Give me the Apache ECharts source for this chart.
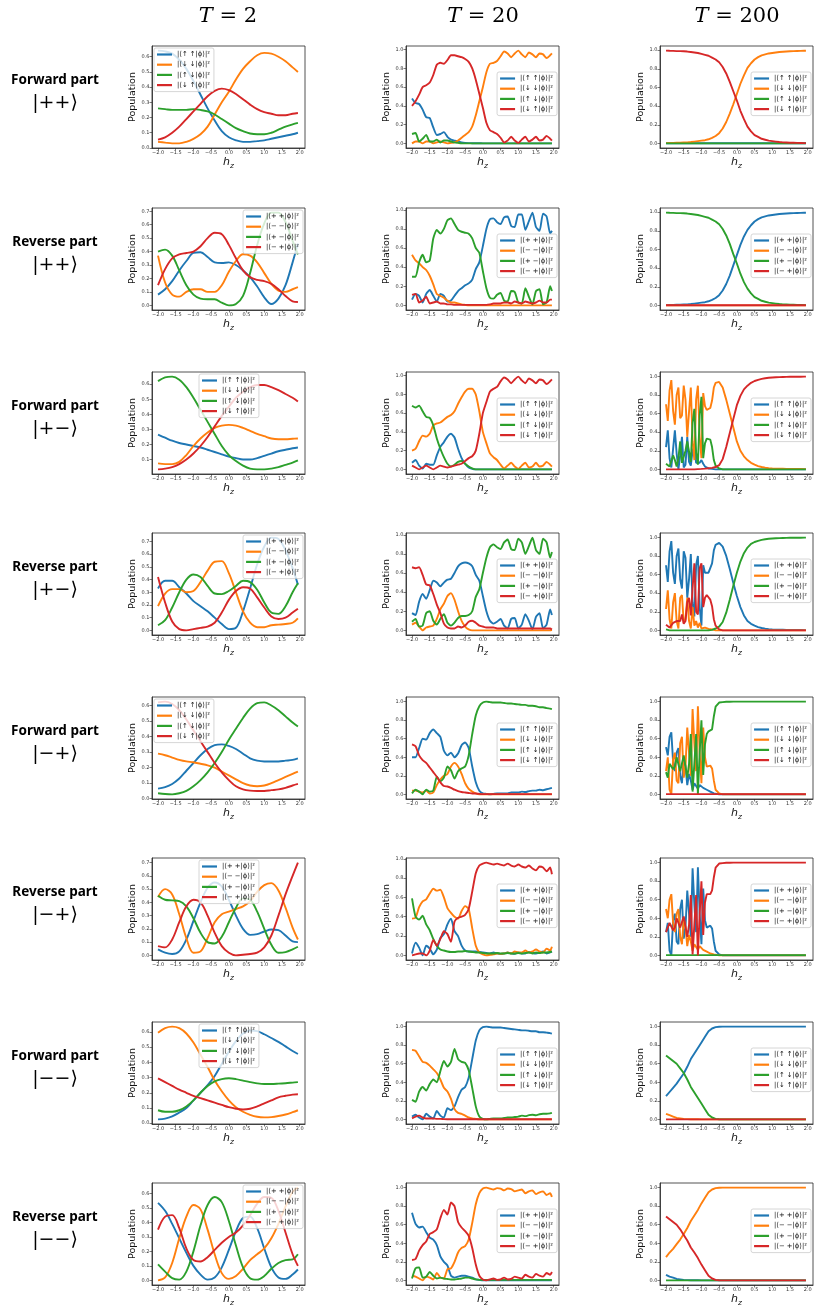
<!DOCTYPE html>
<html>
<head>
<meta charset="utf-8">
<title>Population vs h_z</title>
<script src="https://cdn.jsdelivr.net/npm/echarts@6.0.0/dist/echarts.min.js"></script>
<style>
  html, body { margin: 0; padding: 0; background: #fff; }
  #chart { width: 817px; height: 1307px; }
</style>
</head>
<body>
<div id="chart"></div>
<script>
// sample positions along h_z
var xsT2 = [-2.0,-1.8,-1.6,-1.4,-1.2,-1.0,-0.8,-0.6,-0.4,-0.2,0.0,0.2,0.4,0.6,0.8,1.0,1.2,1.4,1.6,1.8,1.95];
var xsT20 = [-2.0,-1.9,-1.8,-1.7,-1.6,-1.5,-1.4,-1.3,-1.2,-1.1,
  -1.0,-0.9,-0.8,-0.7,-0.6,-0.5,-0.4,-0.3,-0.2,-0.1,
  0.0,0.1,0.2,0.3,0.4,0.5,0.6,0.7,0.8,0.9,
  1.0,1.1,1.2,1.3,1.4,1.5,1.6,1.7,1.8,1.9,1.95];
var xsT200 = [-2.0,-1.95,-1.9,-1.85,-1.8,-1.75,-1.7,-1.65,-1.6,-1.55,
  -1.5,-1.45,-1.4,-1.35,-1.3,-1.25,-1.2,-1.15,-1.1,-1.05,
  -1.0,-0.95,-0.9,-0.85,-0.8,-0.75,-0.7,-0.65,-0.6,
  -0.5,-0.4,-0.3,-0.2,-0.1,0.0,0.1,0.2,0.3,0.4,
  0.5,0.6,0.7,0.8,0.9,1.0,1.1,1.2,1.3,1.4,
  1.5,1.6,1.7,1.8,1.9,1.95];

var xTicks = [-2.0,-1.5,-1.0,-0.5,0.0,0.5,1.0,1.5,2.0];
var yTicksT2 = [0.0,0.1,0.2,0.3,0.4,0.5,0.6,0.7];
var yTicksLong = [0.0,0.2,0.4,0.6,0.8,1.0];

var fwdNames = ['|\u27e8\u2191 \u2191|\u03d5\u27e9|\u00b2','|\u27e8\u2193 \u2193|\u03d5\u27e9|\u00b2','|\u27e8\u2191 \u2193|\u03d5\u27e9|\u00b2','|\u27e8\u2193 \u2191|\u03d5\u27e9|\u00b2'];
var revNames = ['|\u27e8+ +|\u03d5\u27e9|\u00b2','|\u27e8\u2212 \u2212|\u03d5\u27e9|\u00b2','|\u27e8+ \u2212|\u03d5\u27e9|\u00b2','|\u27e8\u2212 +|\u03d5\u27e9|\u00b2'];

var colTitles = ['2', '20', '200'];
var rowLabels = ['Forward part','Reverse part','Forward part','Reverse part','Forward part','Reverse part','Forward part','Reverse part'];
var kets = ['|++\u27e9','|++\u27e9','|+\u2212\u27e9','|+\u2212\u27e9','|\u2212+\u27e9','|\u2212+\u27e9','|\u2212\u2212\u27e9','|\u2212\u2212\u27e9'];

// ---------- T = 2 (blue, orange, green, red) ----------
var fPP_T2 = [
  [0.64,0.635,0.62,0.58,0.52,0.44,0.35,0.26,0.18,0.11,0.07,0.05,0.04,0.04,0.045,0.05,0.06,0.07,0.08,0.09,0.10],
  [0.04,0.035,0.03,0.03,0.04,0.06,0.09,0.14,0.22,0.30,0.37,0.45,0.52,0.57,0.61,0.625,0.62,0.60,0.57,0.53,0.50],
  [0.26,0.255,0.25,0.25,0.25,0.255,0.25,0.24,0.22,0.19,0.16,0.13,0.11,0.095,0.09,0.09,0.10,0.12,0.14,0.155,0.165],
  [0.055,0.07,0.10,0.14,0.19,0.24,0.29,0.34,0.375,0.39,0.38,0.355,0.32,0.285,0.255,0.235,0.225,0.215,0.215,0.225,0.23]
];
var rPP_T2 = [
  [0.08,0.12,0.18,0.26,0.33,0.39,0.395,0.36,0.32,0.315,0.32,0.30,0.26,0.21,0.14,0.06,0.01,0.05,0.15,0.32,0.46],
  [0.37,0.17,0.08,0.065,0.10,0.12,0.12,0.10,0.10,0.15,0.25,0.33,0.38,0.37,0.32,0.24,0.16,0.11,0.10,0.12,0.135],
  [0.40,0.415,0.37,0.26,0.15,0.08,0.05,0.045,0.045,0.02,0.0,0.01,0.07,0.24,0.45,0.61,0.69,0.69,0.62,0.48,0.38],
  [0.15,0.27,0.35,0.38,0.39,0.40,0.44,0.50,0.54,0.53,0.45,0.35,0.26,0.21,0.19,0.18,0.16,0.12,0.07,0.03,0.025]
];
var fPM_T2 = [
  [0.265,0.245,0.225,0.21,0.20,0.19,0.18,0.165,0.15,0.135,0.12,0.11,0.10,0.10,0.11,0.125,0.14,0.155,0.165,0.175,0.18],
  [0.075,0.07,0.07,0.085,0.13,0.19,0.24,0.28,0.31,0.325,0.33,0.325,0.31,0.29,0.27,0.255,0.24,0.235,0.235,0.238,0.24],
  [0.62,0.645,0.65,0.63,0.58,0.51,0.43,0.35,0.27,0.19,0.13,0.09,0.06,0.04,0.035,0.035,0.04,0.05,0.065,0.08,0.095],
  [0.035,0.04,0.05,0.07,0.10,0.14,0.19,0.25,0.32,0.39,0.45,0.51,0.55,0.58,0.595,0.595,0.58,0.56,0.535,0.51,0.485]
];
var rPM_T2 = [
  [0.33,0.39,0.39,0.34,0.29,0.23,0.19,0.15,0.10,0.05,0.01,0.02,0.15,0.33,0.52,0.66,0.73,0.72,0.63,0.49,0.36],
  [0.19,0.29,0.325,0.325,0.30,0.31,0.38,0.47,0.54,0.545,0.45,0.30,0.15,0.06,0.025,0.025,0.04,0.045,0.05,0.06,0.095],
  [0.04,0.08,0.18,0.30,0.40,0.44,0.42,0.35,0.29,0.285,0.31,0.35,0.39,0.38,0.32,0.22,0.14,0.13,0.19,0.30,0.37],
  [0.42,0.22,0.07,0.01,0.0,0.01,0.02,0.03,0.06,0.14,0.24,0.31,0.34,0.33,0.26,0.18,0.11,0.09,0.10,0.14,0.17]
];
var fMP_T2 = [
  [0.065,0.075,0.095,0.13,0.18,0.23,0.28,0.32,0.345,0.35,0.34,0.32,0.29,0.26,0.245,0.24,0.24,0.24,0.245,0.25,0.26],
  [0.29,0.28,0.265,0.25,0.24,0.235,0.225,0.215,0.20,0.175,0.15,0.125,0.10,0.085,0.08,0.085,0.10,0.12,0.14,0.16,0.175],
  [0.035,0.03,0.028,0.035,0.05,0.08,0.12,0.17,0.23,0.30,0.38,0.45,0.52,0.58,0.615,0.62,0.60,0.57,0.53,0.49,0.465],
  [0.62,0.625,0.61,0.57,0.51,0.44,0.37,0.30,0.23,0.17,0.12,0.08,0.06,0.052,0.05,0.05,0.055,0.06,0.07,0.085,0.095]
];
var rMP_T2 = [
  [0.045,0.02,0.01,0.03,0.12,0.26,0.40,0.51,0.55,0.52,0.42,0.30,0.20,0.155,0.16,0.18,0.195,0.19,0.15,0.105,0.10],
  [0.44,0.50,0.46,0.31,0.13,0.02,0.03,0.13,0.25,0.31,0.33,0.35,0.37,0.41,0.48,0.53,0.545,0.49,0.36,0.21,0.12],
  [0.45,0.42,0.415,0.41,0.37,0.28,0.17,0.10,0.09,0.14,0.25,0.36,0.43,0.42,0.33,0.20,0.08,0.02,0.025,0.045,0.065],
  [0.07,0.06,0.12,0.25,0.37,0.42,0.40,0.30,0.17,0.07,0.02,0.0,0.005,0.01,0.02,0.06,0.15,0.30,0.46,0.60,0.70]
];
var fMM_T2 = [
  [0.025,0.03,0.045,0.07,0.10,0.15,0.20,0.25,0.31,0.39,0.47,0.54,0.59,0.61,0.605,0.585,0.56,0.535,0.505,0.475,0.455],
  [0.595,0.625,0.635,0.625,0.59,0.53,0.45,0.37,0.28,0.21,0.15,0.105,0.075,0.055,0.042,0.038,0.04,0.047,0.057,0.072,0.085],
  [0.085,0.075,0.075,0.085,0.11,0.15,0.20,0.245,0.275,0.29,0.295,0.29,0.28,0.27,0.262,0.258,0.258,0.26,0.263,0.267,0.27],
  [0.295,0.27,0.245,0.22,0.20,0.18,0.165,0.15,0.135,0.12,0.105,0.095,0.09,0.095,0.11,0.13,0.15,0.17,0.18,0.188,0.19]
];
var rMM_T2 = [
  [0.535,0.48,0.39,0.29,0.19,0.10,0.04,0.005,0.02,0.09,0.21,0.34,0.43,0.44,0.36,0.22,0.09,0.02,0.01,0.04,0.075],
  [0.0,0.02,0.12,0.29,0.44,0.52,0.49,0.35,0.18,0.05,0.01,0.03,0.08,0.14,0.18,0.22,0.29,0.39,0.51,0.61,0.64],
  [0.11,0.06,0.015,0.005,0.06,0.20,0.38,0.52,0.575,0.54,0.41,0.24,0.09,0.015,0.005,0.03,0.08,0.12,0.14,0.145,0.18],
  [0.35,0.44,0.45,0.36,0.22,0.14,0.13,0.16,0.21,0.26,0.30,0.33,0.38,0.45,0.53,0.575,0.57,0.48,0.33,0.18,0.10]
];

// ---------- T = 20 ----------
var fPP_T20 = [
  [0.48,0.43,0.42,0.36,0.28,0.27,0.17,0.09,0.10,0.12, 0.07,0.04,0.03,0.02,0.01,0.005,0.003,0.002,0.001,0.001, 0,0,0,0,0,0,0,0,0,0, 0,0,0,0,0,0,0,0,0,0,0],
  [0.0,0.02,0.02,0.0,0.02,0.02,0.0,0.01,0.02,0.01, 0.0,0.005,0.01,0.03,0.06,0.09,0.12,0.18,0.30,0.45, 0.60,0.76,0.85,0.86,0.88,0.93,0.98,0.96,0.92,0.96, 0.99,0.95,0.92,0.97,0.95,0.92,0.96,0.95,0.91,0.94,0.96],
  [0.10,0.11,0.02,0.05,0.09,0.02,0.02,0.04,0.01,0.03, 0.03,0.02,0.01,0.005,0,0,0,0,0,0, 0,0,0,0,0,0,0,0,0,0, 0,0,0,0,0,0,0,0,0,0,0],
  [0.40,0.45,0.52,0.60,0.62,0.65,0.73,0.84,0.86,0.85, 0.89,0.94,0.94,0.93,0.92,0.90,0.87,0.80,0.68,0.53, 0.38,0.22,0.14,0.12,0.10,0.06,0.01,0.03,0.07,0.03, 0.005,0.04,0.07,0.02,0.04,0.07,0.03,0.04,0.08,0.05,0.03]
];
var rPP_T20 = [
  [0.06,0.12,0.10,0.03,0.12,0.16,0.10,0.04,0.12,0.10, 0.04,0.05,0.10,0.15,0.18,0.21,0.23,0.27,0.38,0.45, 0.62,0.80,0.90,0.91,0.87,0.85,0.92,0.93,0.83,0.82, 0.95,0.95,0.79,0.88,0.97,0.82,0.78,0.96,0.93,0.75,0.78],
  [0.53,0.47,0.44,0.40,0.37,0.31,0.22,0.12,0.10,0.08, 0.05,0.03,0.03,0.02,0.01,0.005,0,0,0,0, 0,0,0,0,0,0,0,0,0,0, 0,0,0,0,0,0,0,0,0,0,0],
  [0.30,0.30,0.45,0.53,0.45,0.47,0.70,0.79,0.75,0.80, 0.89,0.91,0.85,0.79,0.77,0.76,0.75,0.70,0.60,0.55, 0.36,0.18,0.08,0.07,0.11,0.13,0.05,0.04,0.15,0.14, 0.03,0.02,0.18,0.09,0.01,0.15,0.17,0.01,0.03,0.20,0.15],
  [0.11,0.12,0.03,0.05,0.09,0.02,0.03,0.04,0.02,0.02, 0.01,0.01,0.005,0.005,0.005,0.005,0.005,0.005,0.005,0.005, 0.005,0.005,0.01,0.02,0.02,0.02,0.03,0.03,0.02,0.04, 0.03,0.02,0.04,0.03,0.02,0.03,0.05,0.03,0.03,0.06,0.06]
];
var fPM_T20 = [
  [0.07,0.10,0.04,0.01,0.06,0.05,0.05,0.15,0.24,0.29, 0.35,0.38,0.34,0.22,0.12,0.06,0.02,0.005,0,0, 0,0,0,0,0,0,0,0,0,0, 0,0,0,0,0,0,0,0,0,0,0],
  [0.20,0.22,0.30,0.36,0.35,0.38,0.47,0.49,0.50,0.53, 0.56,0.58,0.62,0.70,0.77,0.83,0.86,0.86,0.80,0.62, 0.40,0.28,0.17,0.13,0.10,0.05,0.01,0.04,0.07,0.03, 0.005,0.04,0.07,0.02,0.03,0.07,0.03,0.04,0.08,0.05,0.03],
  [0.68,0.66,0.68,0.62,0.56,0.55,0.47,0.33,0.22,0.13, 0.06,0.03,0.05,0.08,0.09,0.06,0.03,0.01,0,0, 0,0,0,0,0,0,0,0,0,0, 0,0,0,0,0,0,0,0,0,0,0],
  [0.04,0.02,0.0,0.02,0.04,0.02,0.0,0.02,0.04,0.03, 0.02,0.03,0.04,0.05,0.06,0.09,0.12,0.14,0.20,0.38, 0.60,0.72,0.83,0.86,0.88,0.94,0.98,0.96,0.92,0.96, 0.99,0.95,0.92,0.97,0.95,0.92,0.96,0.95,0.91,0.94,0.96]
];
var rPM_T20 = [
  [0.18,0.16,0.30,0.38,0.33,0.42,0.52,0.50,0.46,0.50, 0.53,0.54,0.60,0.67,0.70,0.71,0.70,0.67,0.58,0.52, 0.36,0.20,0.10,0.07,0.09,0.12,0.05,0.02,0.12,0.13, 0.02,0.06,0.17,0.10,0.01,0.14,0.18,0.02,0.06,0.22,0.16],
  [0.06,0.08,0.04,0.0,0.03,0.04,0.05,0.12,0.22,0.28, 0.36,0.39,0.32,0.20,0.10,0.04,0.01,0,0,0, 0,0,0,0,0,0,0,0,0,0, 0,0,0,0,0,0,0,0,0,0,0.005],
  [0.09,0.12,0.04,0.05,0.18,0.20,0.10,0.06,0.12,0.17, 0.08,0.05,0.08,0.13,0.15,0.15,0.16,0.20,0.35,0.43, 0.60,0.76,0.87,0.90,0.87,0.85,0.92,0.95,0.85,0.84, 0.96,0.92,0.80,0.88,0.97,0.84,0.80,0.96,0.92,0.76,0.82],
  [0.66,0.65,0.66,0.58,0.48,0.47,0.38,0.27,0.18,0.07, 0.03,0.02,0.02,0.04,0.03,0.05,0.09,0.10,0.08,0.05, 0.04,0.03,0.03,0.03,0.02,0.02,0.02,0.02,0.02,0.02, 0.02,0.02,0.02,0.02,0.02,0.02,0.02,0.02,0.02,0.02,0.01]
];
var fMP_T20 = [
  [0.40,0.40,0.50,0.60,0.59,0.66,0.70,0.66,0.62,0.47, 0.42,0.45,0.40,0.44,0.53,0.56,0.50,0.30,0.13,0.04, 0.01,0.005,0.0,0.005,0.01,0.01,0.01,0.01,0.02,0.02, 0.02,0.03,0.025,0.035,0.04,0.04,0.05,0.045,0.055,0.065,0.07],
  [0.04,0.04,0.03,0.02,0.04,0.01,0.02,0.10,0.16,0.20, 0.22,0.30,0.34,0.30,0.22,0.12,0.06,0.03,0.01,0.0, 0,0,0,0,0,0,0,0,0,0, 0,0,0,0,0,0,0,0,0,0,0],
  [0.01,0.05,0.03,0.0,0.05,0.03,0.04,0.19,0.14,0.18, 0.30,0.26,0.17,0.25,0.28,0.30,0.42,0.65,0.85,0.95, 0.99,1.0,0.995,0.99,0.99,0.99,0.985,0.98,0.98,0.975, 0.97,0.965,0.965,0.955,0.955,0.95,0.94,0.94,0.93,0.925,0.92],
  [0.54,0.52,0.42,0.37,0.34,0.29,0.24,0.19,0.13,0.09, 0.085,0.07,0.05,0.035,0.025,0.02,0.015,0.01,0.01,0.005, 0.003,0.003,0.003,0.003,0.003,0.003,0.003,0.003,0.003,0.003, 0.003,0.003,0.003,0.003,0.003,0.003,0.003,0.003,0.003,0.003,0.003]
];
var rMP_T20 = [
  [0.02,0.13,0.08,0.0,0.10,0.07,0.01,0.06,0.18,0.22, 0.32,0.38,0.25,0.20,0.10,0.05,0.04,0.04,0.04,0.035, 0.03,0.025,0.02,0.03,0.02,0.015,0.02,0.03,0.02,0.015, 0.03,0.02,0.02,0.035,0.025,0.02,0.03,0.04,0.02,0.03,0.04],
  [0.38,0.39,0.50,0.56,0.58,0.64,0.69,0.67,0.68,0.60, 0.49,0.44,0.40,0.38,0.46,0.51,0.48,0.28,0.10,0.03, 0.01,0.0,0.005,0.01,0.02,0.015,0.02,0.03,0.02,0.04, 0.03,0.03,0.05,0.03,0.04,0.06,0.04,0.03,0.07,0.05,0.09],
  [0.59,0.40,0.37,0.41,0.32,0.26,0.17,0.10,0.06,0.05, 0.04,0.035,0.035,0.04,0.04,0.045,0.04,0.035,0.03,0.03, 0.025,0.02,0.02,0.02,0.025,0.02,0.02,0.025,0.02,0.02, 0.025,0.02,0.025,0.03,0.02,0.03,0.025,0.03,0.03,0.035,0.04],
  [0.0,0.01,0.02,0.02,0.0,0.05,0.16,0.10,0.17,0.25, 0.22,0.14,0.35,0.39,0.40,0.42,0.48,0.66,0.85,0.93, 0.95,0.96,0.95,0.94,0.95,0.94,0.93,0.95,0.93,0.92, 0.94,0.92,0.91,0.93,0.90,0.88,0.92,0.91,0.87,0.91,0.84]
];
var fMM_T20 = [
  [0.03,0.05,0.02,0.0,0.06,0.03,0.01,0.09,0.04,0.02, 0.12,0.10,0.14,0.24,0.32,0.35,0.45,0.65,0.85,0.96, 0.995,1.0,0.995,0.99,0.99,0.99,0.985,0.98,0.975,0.97, 0.965,0.96,0.96,0.955,0.95,0.95,0.94,0.94,0.935,0.93,0.925],
  [0.75,0.74,0.68,0.62,0.61,0.58,0.54,0.50,0.43,0.34, 0.30,0.22,0.11,0.07,0.06,0.04,0.02,0.01,0.005,0, 0,0,0,0,0,0,0,0,0,0, 0,0,0,0,0,0,0,0,0,0,0],
  [0.21,0.19,0.30,0.35,0.31,0.38,0.43,0.40,0.52,0.63, 0.57,0.62,0.76,0.65,0.62,0.61,0.53,0.34,0.14,0.03, 0.005,0.0,0.005,0.01,0.01,0.01,0.015,0.02,0.02,0.025, 0.03,0.04,0.035,0.045,0.05,0.045,0.055,0.06,0.06,0.065,0.07],
  [0.01,0.03,0.04,0.02,0.01,0.01,0.01,0.005,0.005,0.003, 0.002,0.002,0.002,0.002,0.002,0.002,0.002,0.002,0.002,0.002, 0.002,0.002,0.002,0.002,0.002,0.002,0.002,0.002,0.002,0.002, 0.002,0.002,0.002,0.002,0.002,0.002,0.002,0.002,0.002,0.002,0.002]
];
var rMM_T20 = [
  [0.73,0.61,0.57,0.58,0.52,0.46,0.44,0.38,0.26,0.20, 0.16,0.05,0.03,0.04,0.05,0.05,0.04,0.03,0.01,0.005, 0,0,0,0,0,0,0,0,0,0, 0,0,0,0,0,0,0,0,0,0,0],
  [0.05,0.04,0.02,0.0,0.04,0.03,0.01,0.08,0.03,0.02, 0.12,0.13,0.20,0.30,0.35,0.37,0.44,0.62,0.82,0.94, 0.99,1.0,0.99,0.98,0.995,0.99,0.97,0.99,0.985,0.96, 0.97,0.98,0.94,0.96,0.97,0.93,0.95,0.96,0.92,0.94,0.90],
  [0.02,0.13,0.14,0.03,0.04,0.09,0.05,0.02,0.03,0.02, 0.015,0.01,0.01,0.015,0.02,0.03,0.03,0.02,0.01,0.005, 0.005,0.005,0.005,0.005,0.005,0.005,0.005,0.005,0.005,0.005, 0.005,0.005,0.005,0.005,0.005,0.005,0.005,0.005,0.005,0.005,0.005],
  [0.22,0.23,0.32,0.38,0.42,0.50,0.52,0.55,0.67,0.76, 0.71,0.84,0.80,0.63,0.57,0.53,0.48,0.35,0.17,0.05, 0.01,0.0,0.01,0.02,0.005,0.01,0.03,0.01,0.015,0.04, 0.03,0.02,0.06,0.04,0.03,0.07,0.05,0.04,0.08,0.06,0.09]
];

// ---------- T = 200 (rows 1,2,7,8 on xsT20, rows 3-6 on xsT200) ----------
var fPP_T200 = [
  [0.002,0.002,0.002,0.002,0.002,0.002,0.002,0.002,0.002,0.002, 0.002,0.002,0.002,0.002,0.002,0.002,0.002,0.002,0.002,0.002, 0.002,0.002,0.002,0.002,0.002,0.002,0.002,0.002,0.002,0.002, 0.002,0.002,0.002,0.002,0.002,0.002,0.002,0.002,0.002,0.002,0.002],
  [0.004,0.005,0.006,0.007,0.008,0.01,0.012,0.015,0.02,0.025, 0.03,0.035,0.045,0.06,0.08,0.11,0.16,0.23,0.32,0.42, 0.53,0.64,0.73,0.81,0.86,0.90,0.925,0.945,0.955,0.965, 0.97,0.975,0.98,0.983,0.986,0.988,0.99,0.991,0.992,0.993,0.993],
  [0.001,0.001,0.001,0.001,0.001,0.001,0.001,0.001,0.001,0.001, 0.001,0.001,0.001,0.001,0.001,0.001,0.001,0.001,0.001,0.001, 0.001,0.001,0.001,0.001,0.001,0.001,0.001,0.001,0.001,0.001, 0.001,0.001,0.001,0.001,0.001,0.001,0.001,0.001,0.001,0.001,0.001],
  [0.995,0.993,0.992,0.99,0.99,0.988,0.985,0.98,0.975,0.97, 0.96,0.95,0.94,0.92,0.90,0.87,0.82,0.75,0.66,0.56, 0.46,0.35,0.26,0.18,0.13,0.09,0.07,0.05,0.04,0.03, 0.025,0.02,0.015,0.012,0.01,0.008,0.007,0.006,0.005,0.004,0.004]
];
var rPP_T200 = [
  [0.004,0.005,0.006,0.007,0.008,0.01,0.012,0.015,0.02,0.025, 0.03,0.035,0.045,0.06,0.08,0.11,0.16,0.23,0.32,0.43, 0.54,0.65,0.74,0.81,0.86,0.90,0.925,0.945,0.955,0.965, 0.97,0.975,0.98,0.983,0.986,0.988,0.99,0.991,0.992,0.993,0.993],
  [0.001,0.001,0.001,0.001,0.001,0.001,0.001,0.001,0.001,0.001, 0.001,0.001,0.001,0.001,0.001,0.001,0.001,0.001,0.001,0.001, 0.001,0.001,0.001,0.001,0.001,0.001,0.001,0.001,0.001,0.001, 0.001,0.001,0.001,0.001,0.001,0.001,0.001,0.001,0.001,0.001,0.001],
  [0.995,0.993,0.992,0.99,0.99,0.988,0.985,0.98,0.975,0.97, 0.96,0.95,0.94,0.92,0.90,0.87,0.82,0.75,0.66,0.55, 0.45,0.34,0.25,0.18,0.13,0.09,0.07,0.05,0.04,0.03, 0.025,0.02,0.015,0.012,0.01,0.008,0.007,0.006,0.005,0.004,0.004],
  [0.002,0.002,0.002,0.002,0.002,0.002,0.002,0.002,0.002,0.002, 0.002,0.002,0.002,0.002,0.002,0.002,0.002,0.002,0.002,0.002, 0.002,0.002,0.002,0.002,0.002,0.002,0.002,0.002,0.002,0.002, 0.002,0.002,0.002,0.002,0.002,0.002,0.002,0.002,0.002,0.002,0.002]
];
var fPM_T200 = [
  [0.24,0.42,0.12,0.02,0.22,0.42,0.17,0.0,0.15,0.35, 0.02,0.05,0.35,0.08,0.04,0.20,0.25,0.07,0.05,0.07, 0.10,0.06,0.03,0.02,0.01,0.01,0.005,0.0,0.0, 0,0,0,0,0,0,0,0,0,0, 0,0,0,0,0,0,0,0,0,0, 0,0,0,0,0,0],
  [0.70,0.52,0.85,0.96,0.63,0.48,0.80,0.88,0.55,0.58, 0.90,0.75,0.35,0.62,0.88,0.30,0.10,0.75,0.90,0.35, 0.12,0.82,0.68,0.64,0.65,0.66,0.74,0.88,0.93, 0.94,0.88,0.75,0.60,0.45,0.30,0.20,0.14,0.10,0.07, 0.05,0.035,0.025,0.018,0.013,0.01,0.008,0.007,0.006,0.005, 0.005,0.004,0.004,0.004,0.003,0.003],
  [0.06,0.05,0.03,0.02,0.15,0.10,0.03,0.12,0.30,0.07, 0.08,0.20,0.30,0.30,0.08,0.50,0.65,0.18,0.05,0.58, 0.78,0.12,0.28,0.33,0.32,0.32,0.24,0.10,0.04, 0.01,0,0,0,0,0,0,0,0,0, 0,0,0,0,0,0,0,0,0,0, 0,0,0,0,0,0],
  [0,0,0,0,0,0,0,0,0,0, 0,0,0,0,0,0,0,0.002,0.003,0.003, 0.005,0.007,0.008,0.01,0.012,0.014,0.016,0.018,0.025, 0.045,0.11,0.24,0.39,0.54,0.69,0.79,0.86,0.90,0.93, 0.95,0.963,0.973,0.98,0.985,0.988,0.99,0.992,0.993,0.994, 0.995,0.995,0.996,0.996,0.997,0.997]
];
var rPM_T200 = [
  [0.70,0.52,0.85,0.96,0.62,0.50,0.80,0.88,0.55,0.45, 0.85,0.78,0.35,0.55,0.82,0.30,0.15,0.70,0.80,0.25, 0.05,0.70,0.62,0.60,0.62,0.64,0.72,0.86,0.92, 0.94,0.90,0.80,0.66,0.51,0.37,0.25,0.16,0.10,0.07, 0.05,0.035,0.025,0.018,0.013,0.01,0.008,0.007,0.006,0.005, 0.005,0.004,0.004,0.004,0.003,0.003],
  [0.23,0.43,0.12,0.02,0.30,0.40,0.10,0.02,0.35,0.38, 0.08,0.12,0.35,0.10,0.02,0.25,0.05,0.10,0.03,0.08, 0.02,0.04,0.03,0.02,0.015,0.01,0.01,0.005,0.0, 0,0,0,0,0,0,0,0,0,0, 0,0,0,0,0,0,0,0,0,0, 0,0,0,0,0,0],
  [0.01,0.01,0,0,0,0,0,0,0,0, 0,0,0,0,0,0,0,0,0,0, 0,0,0,0,0,0.005,0.005,0.01,0.02, 0.04,0.09,0.19,0.33,0.48,0.62,0.74,0.83,0.89,0.93, 0.95,0.963,0.973,0.98,0.985,0.988,0.99,0.992,0.993,0.994, 0.995,0.995,0.996,0.996,0.997,0.997],
  [0.06,0.05,0.03,0.02,0.08,0.10,0.10,0.10,0.10,0.17, 0.07,0.10,0.30,0.35,0.16,0.45,0.72,0.20,0.17,0.67, 0.72,0.25,0.35,0.38,0.36,0.33,0.26,0.12,0.05, 0.01,0,0,0,0,0,0,0,0,0, 0,0,0,0,0,0,0,0,0,0, 0,0,0,0,0,0]
];
var fMP_T200 = [
  [0.51,0.42,0.62,0.67,0.35,0.25,0.45,0.50,0.20,0.12, 0.40,0.30,0.10,0.22,0.15,0.05,0.12,0.10,0.06,0.10, 0.08,0.07,0.06,0.05,0.04,0.03,0.02,0.01,0.005, 0,0,0,0,0,0,0,0,0,0, 0,0,0,0,0,0,0,0,0,0, 0,0,0,0,0,0],
  [0.25,0.40,0.05,0.0,0.38,0.45,0.15,0.12,0.55,0.62, 0.18,0.30,0.72,0.45,0.20,0.92,0.55,0.25,0.95,0.45, 0.12,0.72,0.40,0.30,0.28,0.31,0.28,0.15,0.05, 0.01,0,0,0,0,0,0,0,0,0, 0,0,0,0,0,0,0,0,0,0, 0,0,0,0,0,0],
  [0.24,0.18,0.33,0.33,0.27,0.30,0.40,0.38,0.25,0.26, 0.42,0.40,0.18,0.33,0.65,0.03,0.33,0.65,0.0,0.45, 0.80,0.21,0.54,0.65,0.68,0.66,0.70,0.84,0.945, 0.99,0.995,0.998,0.999,1.0,1.0,1.0,1.0,1.0,1.0, 1.0,1.0,1.0,1.0,1.0,1.0,1.0,1.0,1.0,1.0, 1.0,1.0,1.0,1.0,1.0,1.0],
  [0.003,0.003,0.003,0.003,0.003,0.003,0.003,0.003,0.003,0.003, 0.003,0.003,0.003,0.003,0.003,0.003,0.003,0.003,0.003,0.003, 0.003,0.003,0.003,0.003,0.003,0.003,0.003,0.003,0.003, 0.003,0.003,0.003,0.003,0.003,0.003,0.003,0.003,0.003,0.003, 0.003,0.003,0.003,0.003,0.003,0.003,0.003,0.003,0.003,0.003, 0.003,0.003,0.003,0.003,0.003,0.003]
];
var rMP_T200 = [
  [0.25,0.35,0.05,0.0,0.38,0.45,0.15,0.12,0.50,0.60, 0.18,0.30,0.70,0.45,0.20,0.94,0.55,0.25,0.95,0.45, 0.12,0.72,0.38,0.30,0.30,0.32,0.29,0.15,0.05, 0.01,0,0,0,0,0,0,0,0,0, 0,0,0,0,0,0,0,0,0,0, 0,0,0,0,0,0],
  [0.50,0.40,0.60,0.66,0.35,0.25,0.45,0.50,0.20,0.12, 0.40,0.30,0.10,0.22,0.15,0.05,0.12,0.10,0.06,0.10, 0.08,0.06,0.05,0.04,0.03,0.02,0.015,0.01,0.005, 0,0,0,0,0,0,0,0,0,0, 0,0,0,0,0,0,0,0,0,0, 0,0,0,0,0,0],
  [0.003,0.003,0.003,0.003,0.003,0.003,0.003,0.003,0.003,0.003, 0.003,0.003,0.003,0.003,0.003,0.003,0.003,0.003,0.003,0.003, 0.003,0.003,0.003,0.003,0.003,0.003,0.003,0.003,0.003, 0.003,0.003,0.003,0.003,0.003,0.003,0.003,0.003,0.003,0.003, 0.003,0.003,0.003,0.003,0.003,0.003,0.003,0.003,0.003,0.003, 0.003,0.003,0.003,0.003,0.003,0.003],
  [0.25,0.25,0.35,0.34,0.27,0.30,0.40,0.38,0.30,0.28, 0.42,0.40,0.20,0.33,0.65,0.01,0.33,0.65,0.0,0.45, 0.80,0.22,0.57,0.66,0.67,0.66,0.70,0.84,0.945, 0.99,0.995,0.998,0.999,1.0,1.0,1.0,1.0,1.0,1.0, 1.0,1.0,1.0,1.0,1.0,1.0,1.0,1.0,1.0,1.0, 1.0,1.0,1.0,1.0,1.0,1.0]
];
var fMM_T200 = [
  [0.25,0.295,0.34,0.385,0.44,0.495,0.567,0.65,0.71,0.77, 0.83,0.89,0.95,0.98,0.995,0.999,1.0,1.0,1.0,1.0, 1.0,1.0,1.0,1.0,1.0,1.0,1.0,1.0,1.0,1.0, 1.0,1.0,1.0,1.0,1.0,1.0,1.0,1.0,1.0,1.0,1.0],
  [0.06,0.045,0.03,0.015,0.01,0.005,0.003,0.002,0.001,0.001, 0,0,0,0,0,0,0,0,0,0, 0,0,0,0,0,0,0,0,0,0, 0,0,0,0,0,0,0,0,0,0,0],
  [0.69,0.66,0.63,0.60,0.55,0.50,0.43,0.35,0.29,0.23, 0.17,0.11,0.05,0.02,0.005,0.001,0,0,0,0, 0,0,0,0,0,0,0,0,0,0, 0,0,0,0,0,0,0,0,0,0,0],
  [0,0,0,0,0,0,0,0,0,0, 0,0,0,0,0,0,0,0,0,0, 0,0,0,0,0,0,0,0,0,0, 0,0,0,0,0,0,0,0,0,0,0]
];
var rMM_T200 = [
  [0.06,0.04,0.03,0.015,0.01,0.005,0.003,0.002,0.001,0.001, 0,0,0,0,0,0,0,0,0,0, 0,0,0,0,0,0,0,0,0,0, 0,0,0,0,0,0,0,0,0,0,0],
  [0.25,0.30,0.34,0.39,0.44,0.50,0.565,0.64,0.70,0.76, 0.83,0.89,0.95,0.98,0.995,0.999,1.0,1.0,1.0,1.0, 1.0,1.0,1.0,1.0,1.0,1.0,1.0,1.0,1.0,1.0, 1.0,1.0,1.0,1.0,1.0,1.0,1.0,1.0,1.0,1.0,1.0],
  [0,0,0,0,0,0,0,0,0,0, 0,0,0,0,0,0,0,0,0,0, 0,0,0,0,0,0,0,0,0,0, 0,0,0,0,0,0,0,0,0,0,0],
  [0.69,0.66,0.63,0.60,0.55,0.49,0.43,0.355,0.30,0.24, 0.17,0.11,0.05,0.02,0.005,0.001,0,0,0,0, 0,0,0,0,0,0,0,0,0,0, 0,0,0,0,0,0,0,0,0,0,0]
];

var panels = [
  [fPP_T2, fPP_T20, fPP_T200],
  [rPP_T2, rPP_T20, rPP_T200],
  [fPM_T2, fPM_T20, fPM_T200],
  [rPM_T2, rPM_T20, rPM_T200],
  [fMP_T2, fMP_T20, fMP_T200],
  [rMP_T2, rMP_T20, rMP_T200],
  [fMM_T2, fMM_T20, fMM_T200],
  [rMM_T2, rMM_T20, rMM_T200]
];
var panelXs = [
  [xsT2, xsT20, xsT20],
  [xsT2, xsT20, xsT20],
  [xsT2, xsT20, xsT200],
  [xsT2, xsT20, xsT200],
  [xsT2, xsT20, xsT200],
  [xsT2, xsT20, xsT200],
  [xsT2, xsT20, xsT20],
  [xsT2, xsT20, xsT20]
];

// layout
var colors = ['#1f77b4', '#ff7f0e', '#2ca02c', '#d62728'];
var rowTops = [46, 208, 372, 533, 697, 858, 1022, 1183];
var colLefts = [152, 406, 660];
var colCenters = [228, 483, 737];
var gw = 153, gh = 102;
var legendPos = [
  ['ul','cr','cr'], ['ur','cr','cr'], ['uc','cr','cr'], ['ur','cr','cr'],
  ['ul','cr','cr'], ['uc','cr','cr'], ['uc','cr','cr'], ['ur','cr','cr']
];
var axisColor = '#262626';

function fmt(v) {
  return (v < -1e-9 ? '\u2212' : '') + Math.abs(v).toFixed(1);
}

var chartDom = document.getElementById('chart');
var myChart = echarts.init(chartDom);
var option = {
  animation: false,
  backgroundColor: '#ffffff',
  grid: [], xAxis: [], yAxis: [], legend: [], series: [], graphic: []
};

for (var r = 0; r < 8; r++) {
  var names = (r % 2 === 0) ? fwdNames : revNames;
  for (var c = 0; c < 3; c++) {
    var idx = r * 3 + c;
    var vals = panels[r][c];
    var xs = panelXs[r][c];
    var lo = Infinity, hi = -Infinity;
    vals.forEach(function (s) { s.forEach(function (v) { if (v < lo) lo = v; if (v > hi) hi = v; }); });
    var pad = (hi - lo) * 0.05;
    var ymin = lo - pad, ymax = hi + pad;
    var yt = (c === 0 ? yTicksT2 : yTicksLong).filter(function (v) { return v >= ymin - 1e-9 && v <= ymax + 1e-9; });
    var gl = colLefts[c], gt = rowTops[r];

    option.grid.push({
      left: gl, top: gt, width: gw, height: gh,
      show: true, borderColor: axisColor, borderWidth: 0.8,
      containLabel: false, outerBoundsMode: 'none'
    });
    option.xAxis.push({
      type: 'value', gridIndex: idx, min: -2.17, max: 2.15,
      name: '{h|h}{z|z}', nameLocation: 'middle', nameGap: 6,
      nameTextStyle: {
        rich: {
          h: { fontSize: 11, fontStyle: 'italic', fontFamily: 'DejaVu Sans', color: '#111', padding: [0, 0, 3, 0], verticalAlign: 'bottom' },
          z: { fontSize: 7.5, fontStyle: 'italic', fontFamily: 'DejaVu Sans', color: '#111', verticalAlign: 'bottom' }
        }
      },
      axisLine: { show: true, onZero: false, lineStyle: { color: axisColor, width: 0.8 } },
      axisTick: { show: true, length: 2.5, customValues: xTicks, lineStyle: { color: axisColor, width: 0.6 } },
      axisLabel: { customValues: xTicks, fontSize: 5, fontFamily: 'DejaVu Sans', color: '#333', margin: 2.5, formatter: fmt },
      splitLine: { show: false }
    });
    option.yAxis.push({
      type: 'value', gridIndex: idx, min: ymin, max: ymax,
      name: 'Population', nameLocation: 'middle', nameGap: 13, nameRotate: 90,
      nameTextStyle: { fontSize: 9.5, fontFamily: 'DejaVu Sans', color: '#111' },
      axisLine: { show: true, onZero: false, lineStyle: { color: axisColor, width: 0.8 } },
      axisTick: { show: true, length: 2.5, customValues: yt, lineStyle: { color: axisColor, width: 0.6 } },
      axisLabel: { customValues: yt, fontSize: 5, fontFamily: 'DejaVu Sans', color: '#333', margin: 2.5, formatter: fmt },
      splitLine: { show: false }
    });

    var lg = {
      orient: 'vertical', data: names.slice(), icon: 'rect',
      itemWidth: 15, itemHeight: 2.2, itemGap: 3.2, selectedMode: false,
      padding: [3, 4, 3, 3],
      backgroundColor: 'rgba(255,255,255,0.8)', borderColor: '#cccccc', borderWidth: 0.8, borderRadius: 2,
      textStyle: { fontSize: 6.8, fontFamily: 'DejaVu Sans', color: '#111' }
    };
    var pos = legendPos[r][c];
    if (pos === 'ul') { lg.left = gl + 2; lg.top = gt + 2; }
    else if (pos === 'uc') { lg.left = gl + 47; lg.top = gt + 2; }
    else if (pos === 'ur') { lg.right = 817 - (gl + gw) + 2; lg.top = gt + 2; }
    else { lg.right = 817 - (gl + gw) + 2; lg.top = gt + 26; }
    option.legend.push(lg);

    for (var k = 0; k < 4; k++) {
      var s = vals[k];
      var pts = [];
      for (var i = 0; i < xs.length && i < s.length; i++) pts.push([xs[i], s[i]]);
      option.series.push({
        type: 'line', name: names[k], xAxisIndex: idx, yAxisIndex: idx,
        data: pts, showSymbol: false, symbol: 'none',
        smooth: c === 0 ? 0.35 : (c === 1 ? 0.2 : false),
        color: colors[k],
        itemStyle: { color: colors[k] },
        lineStyle: { width: 1.9, color: colors[k] },
        silent: true
      });
    }
  }
}

// column headers
colTitles.forEach(function (t, c) {
  option.graphic.push({
    type: 'text', x: colCenters[c], y: 17,
    style: {
      text: '{t|T} = ' + t,
      font: '21px "DejaVu Serif"',
      fill: '#000',
      align: 'center', verticalAlign: 'middle',
      textAlign: 'center', textVerticalAlign: 'middle',
      rich: { t: { font: 'italic 21px "DejaVu Serif"', fill: '#000' } }
    }
  });
});

// row labels
rowLabels.forEach(function (lab, r) {
  var cy = rowTops[r] + gh / 2;
  option.graphic.push({
    type: 'text', x: 55, y: cy - 17,
    style: {
      text: lab, font: 'bold 13.5px "Noto Sans"', fill: '#000',
      align: 'center', verticalAlign: 'middle', textAlign: 'center', textVerticalAlign: 'middle'
    }
  });
  option.graphic.push({
    type: 'text', x: 55, y: cy + 6,
    style: {
      text: kets[r], font: '19px "DejaVu Serif"', fill: '#000',
      align: 'center', verticalAlign: 'middle', textAlign: 'center', textVerticalAlign: 'middle'
    }
  });
});

option && myChart.setOption(option);
</script>
</body>
</html>
